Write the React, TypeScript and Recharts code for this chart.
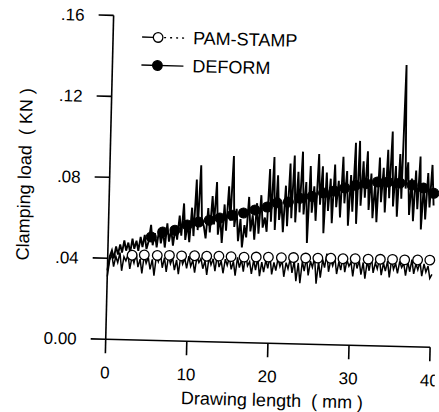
import { LineChart, Line, XAxis, YAxis, Label } from 'recharts';

const FONT = '"Liberation Sans", Arial, sans-serif';

// raw signals, sampled every 0.25 mm from 0 to 40 mm
const STEP_MM = 0.25;

const deformRaw = [
  0.034, 0.041, 0.044, 0.040, 0.046, 0.042, 0.047, 0.043, 0.049, 0.044,
  0.048, 0.043, 0.050, 0.045, 0.049, 0.044, 0.051, 0.046, 0.052, 0.045,
  0.049, 0.057, 0.047, 0.053, 0.046, 0.055, 0.048, 0.054, 0.046, 0.058,
  0.049, 0.055, 0.047, 0.056, 0.050, 0.062, 0.052, 0.068, 0.050, 0.058,
  0.049, 0.066, 0.052, 0.080, 0.055, 0.087, 0.060, 0.057, 0.051, 0.066,
  0.054, 0.072, 0.058, 0.079, 0.053, 0.062, 0.049, 0.068, 0.055, 0.077,
  0.060, 0.092, 0.057, 0.066, 0.050, 0.061, 0.047, 0.058, 0.052, 0.072,
  0.055, 0.063, 0.051, 0.069, 0.054, 0.073, 0.057, 0.062, 0.055, 0.086,
  0.060, 0.092, 0.056, 0.083, 0.061, 0.070, 0.055, 0.078, 0.058, 0.089,
  0.062, 0.093, 0.060, 0.085, 0.065, 0.095, 0.064, 0.080, 0.050, 0.088,
  0.065, 0.078, 0.061, 0.094, 0.069, 0.088, 0.055, 0.085, 0.066, 0.082,
  0.060, 0.089, 0.068, 0.081, 0.063, 0.093, 0.070, 0.086, 0.059, 0.084,
  0.066, 0.100, 0.060, 0.101, 0.069, 0.091, 0.073, 0.096, 0.067, 0.085,
  0.063, 0.081, 0.061, 0.093, 0.071, 0.088, 0.066, 0.097, 0.073, 0.106,
  0.069, 0.089, 0.064, 0.095, 0.073, 0.139, 0.078, 0.091, 0.065, 0.083,
  0.062, 0.087, 0.068, 0.094, 0.058, 0.081, 0.063, 0.086, 0.069, 0.090,
  0.070,
];

const pamRaw = [
  0.031, 0.039, 0.042, 0.036, 0.041, 0.038, 0.043, 0.034, 0.041, 0.039,
  0.042, 0.035, 0.041, 0.038, 0.043, 0.036, 0.040, 0.033, 0.042, 0.038,
  0.041, 0.035, 0.040, 0.032, 0.042, 0.039, 0.043, 0.036, 0.041, 0.034,
  0.042, 0.038, 0.041, 0.035, 0.040, 0.033, 0.042, 0.038, 0.041, 0.036,
  0.042, 0.037, 0.040, 0.034, 0.042, 0.039, 0.041, 0.036, 0.040, 0.033,
  0.042, 0.038, 0.041, 0.035, 0.043, 0.037, 0.040, 0.034, 0.041, 0.038,
  0.042, 0.036, 0.040, 0.033, 0.042, 0.037, 0.041, 0.035, 0.044, 0.038,
  0.040, 0.034, 0.041, 0.036, 0.042, 0.033, 0.040, 0.035, 0.041, 0.037,
  0.043, 0.034, 0.040, 0.036, 0.042, 0.038, 0.041, 0.033, 0.040, 0.037,
  0.042, 0.035, 0.041, 0.031, 0.040, 0.030, 0.041, 0.036, 0.043, 0.034,
  0.041, 0.038, 0.043, 0.030, 0.041, 0.033, 0.042, 0.038, 0.045, 0.036,
  0.042, 0.039, 0.043, 0.035, 0.041, 0.037, 0.044, 0.036, 0.042, 0.039,
  0.041, 0.034, 0.043, 0.038, 0.042, 0.035, 0.041, 0.033, 0.042, 0.037,
  0.044, 0.036, 0.041, 0.038, 0.043, 0.035, 0.041, 0.037, 0.042, 0.034,
  0.043, 0.038, 0.041, 0.036, 0.042, 0.039, 0.041, 0.035, 0.042, 0.037,
  0.043, 0.036, 0.041, 0.038, 0.042, 0.035, 0.041, 0.037, 0.040, 0.034,
  0.036,
];

// smoothed marker points
const pamMarkX = [
  3.0, 4.5, 6.1, 7.6, 9.1, 10.7, 12.2, 13.7, 15.2, 16.8, 18.3, 19.8, 21.4,
  22.9, 24.4, 25.9, 27.5, 29.0, 30.5, 32.1, 33.6, 35.1, 36.6, 38.2, 39.7,
];
const pamMarkY = [
  0.0418, 0.0421, 0.042, 0.0422, 0.0421, 0.0423, 0.0422, 0.0424, 0.0423,
  0.0422, 0.0424, 0.0425, 0.0424, 0.0426, 0.0425, 0.0426, 0.0427, 0.0426,
  0.0428, 0.0427, 0.0428, 0.0429, 0.0428, 0.0429, 0.043,
];

const deformMarkX = [
  5.3, 6.7, 8.2, 9.7, 11.1, 12.4, 13.7, 15.2, 16.6, 18.0, 19.5, 20.7, 22.1,
  23.5, 25.0, 26.4, 27.7, 29.0, 30.3, 31.6, 33.0, 34.3, 35.8, 37.3, 38.7, 40.0,
];
const deformMarkY = [
  0.051, 0.0536, 0.0547, 0.0574, 0.059, 0.060, 0.0612, 0.0628, 0.064, 0.0656,
  0.0672, 0.0694, 0.070, 0.072, 0.073, 0.0748, 0.076, 0.0776, 0.079, 0.080,
  0.0809, 0.081, 0.0807, 0.0798, 0.0785, 0.076,
];

const xTicks = [0, 10, 20, 30, 40];
const yTicks = [0, 0.04, 0.08, 0.12, 0.16];

const deformRawData = deformRaw.map((v, i) => ({ x: i * STEP_MM, y: v }));
const pamRawData = pamRaw.map((v, i) => ({ x: i * STEP_MM, y: v }));
const pamMarkData = pamMarkX.map((x, i) => ({ x, y: pamMarkY[i] }));
const deformMarkData = deformMarkX.map((x, i) => ({ x, y: deformMarkY[i] }));

const fmtY = (v: number) => (v === 0 ? '0.00' : v.toFixed(2).replace(/^0/, ''));

const axisStroke = { stroke: '#000', strokeWidth: 1.6 };
const tickStyle = { fill: '#000', fontSize: 17, fontFamily: FONT };

function LegendRow({ label, filled, top }: { label: string; filled: boolean; top: number }) {
  return (
    <div style={{ position: 'absolute', left: 136, top, height: 18, display: 'flex', alignItems: 'center' }}>
      <svg width={46} height={18}>
        {filled ? (
          <line x1={2} y1={9} x2={44} y2={9} stroke="#000" strokeWidth={1.4} />
        ) : (
          <>
            <line x1={2} y1={9} x2={13} y2={9} stroke="#000" strokeWidth={1.4} />
            <line x1={24} y1={9} x2={44} y2={9} stroke="#000" strokeWidth={1.4} strokeDasharray="2 4" />
          </>
        )}
        <circle cx={18} cy={9} r={4.8} fill={filled ? '#000' : '#fff'} stroke="#000" strokeWidth={1.3} />
      </svg>
      <span style={{ marginLeft: 7, fontFamily: FONT, fontSize: 18, lineHeight: '18px', color: '#000' }}>{label}</span>
    </div>
  );
}

export default function App() {
  return (
    <div
      style={{
        position: 'absolute',
        left: 0,
        top: 0,
        width: 439,
        height: 412,
        background: '#fff',
        transform: 'rotate(1.4deg)',
        transformOrigin: '219.5px 206px',
      }}
    >
      <LineChart width={439} height={412} margin={{ top: 18, right: 5.5, bottom: 0, left: 0 }}>
        <XAxis
          dataKey="x"
          type="number"
          domain={[0, 40]}
          ticks={xTicks}
          interval={0}
          height={70}
          tickSize={14}
          tickMargin={13}
          axisLine={axisStroke}
          tickLine={axisStroke}
          tick={tickStyle}
        >
          <Label
            content={({ viewBox }: any) => (
              <text
                x={viewBox.x + viewBox.width / 2 + 5.5}
                y={viewBox.y + 57}
                textAnchor="middle"
                dominantBaseline="central"
                fontSize={18}
                fontFamily={FONT}
                fill="#000"
                style={{ whiteSpace: 'pre' }}
              >
                {'Drawing length  ( mm )'}
              </text>
            )}
          />
        </XAxis>
        <XAxis xAxisId="top" orientation="top" type="number" domain={[0, 40]} height={0} tick={false} tickLine={false} axisLine={axisStroke} />
        <YAxis
          type="number"
          domain={[0, 0.16]}
          ticks={yTicks}
          interval={0}
          width={109}
          tickSize={15}
          tickMargin={14}
          tickFormatter={fmtY}
          axisLine={axisStroke}
          tickLine={axisStroke}
          tick={tickStyle}
        >
          <Label
            content={({ viewBox }: any) => {
              const cx = viewBox.x + 24;
              const cy = viewBox.y + viewBox.height / 2 - 1;
              return (
                <text
                  x={cx}
                  y={cy}
                  transform={`rotate(-90, ${cx}, ${cy})`}
                  textAnchor="middle"
                  dominantBaseline="central"
                  fontSize={18}
                  fontFamily={FONT}
                  fill="#000"
                  style={{ whiteSpace: 'pre' }}
                >
                  {'Clamping load  ( KN )'}
                </text>
              );
            }}
          />
        </YAxis>
        <YAxis yAxisId="right" orientation="right" type="number" domain={[0, 0.16]} width={0} tick={false} tickLine={false} axisLine={axisStroke} />

        <Line data={pamRawData} dataKey="y" stroke="#000" strokeWidth={1.5} dot={false} activeDot={false} isAnimationActive={false} />
        <Line data={deformRawData} dataKey="y" stroke="#000" strokeWidth={1.9} dot={false} activeDot={false} isAnimationActive={false} />
        <Line
          data={pamMarkData}
          dataKey="y"
          stroke="none"
          dot={{ r: 4.8, fill: '#fff', stroke: '#000', strokeWidth: 1.3 }}
          activeDot={false}
          isAnimationActive={false}
        />
        <Line
          data={deformMarkData}
          dataKey="y"
          stroke="none"
          dot={{ r: 5, fill: '#000', stroke: '#000', strokeWidth: 1 }}
          activeDot={false}
          isAnimationActive={false}
        />
      </LineChart>
      <LegendRow label="PAM-STAMP" filled={false} top={29.5} />
      <LegendRow label="DEFORM" filled={true} top={57.5} />
    </div>
  );
}
